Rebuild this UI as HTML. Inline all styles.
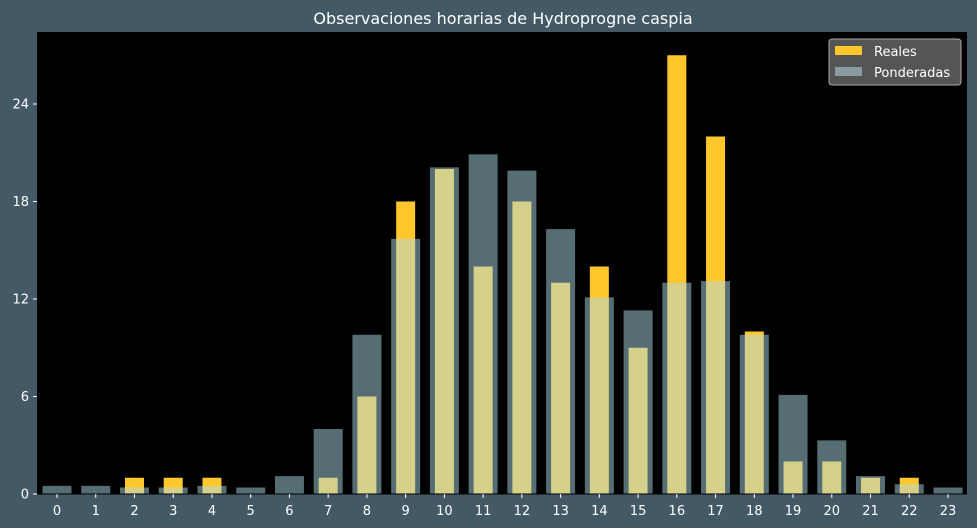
<!DOCTYPE html>
<html><head><meta charset="utf-8"><style>
html,body{margin:0;padding:0;background:#435966;}
svg{display:block;font-family:"DejaVu Sans","Liberation Sans",sans-serif;}
</style></head><body>
<svg id="chart" width="977" height="528" xmlns="http://www.w3.org/2000/svg">
<rect x="0" y="0" width="977" height="528" fill="#435966"/>
<text x="503" y="24" text-anchor="middle" fill="#ffffff" font-size="16">Observaciones horarias de Hydroprogne caspia</text>
<rect x="37" y="32" width="930" height="462" fill="#000000"/>
<g id="bars"></g>
<g id="axes"></g>
<g>
<rect x="829" y="39" width="132" height="46" rx="3" fill="#555555" stroke="#aaaaaa" stroke-width="1"/>
<rect x="835" y="46" width="27" height="9" fill="#ffc72c"/>
<text x="874" y="56" fill="#ffffff" font-size="13">Reales</text>
<rect x="835" y="67" width="27" height="9" fill="#8a9ca2"/>
<text x="874" y="77" fill="#ffffff" font-size="13">Ponderadas</text>
</g>
</svg>
<script>
const hours = [0,1,2,3,4,5,6,7,8,9,10,11,12,13,14,15,16,17,18,19,20,21,22,23];
const reales = [0,0,1,1,1,0,0,1,6,18,20,14,18,13,14,9,27,22,10,2,2,1,1,0];
const ponderadas = [0.5,0.5,0.4,0.4,0.5,0.4,1.1,4.0,9.8,15.7,20.1,20.9,19.9,16.3,12.1,11.3,13.0,13.1,9.8,6.1,3.3,1.1,0.6,0.4];
const yTicks = [0,6,12,18,24];
const NS = "http://www.w3.org/2000/svg";
const x0 = 57, step = (948-57)/23, yBase = 494, pxPerUnit = 16.25;
const xScale = h => x0 + h*step;
const yScale = v => yBase - v*pxPerUnit;
const bars = document.getElementById('bars');
const axes = document.getElementById('axes');
function mk(tag, attrs){const e=document.createElementNS(NS,tag);for(const k in attrs)e.setAttribute(k,attrs[k]);return e;}
hours.forEach((h,i)=>{
  const w=19, v=reales[i];
  const r = mk('rect',{x:xScale(h)-w/2,y:yScale(v),width:w,height:yBase-yScale(v),fill:'#ffc72c'});
  
  
  bars.appendChild(r);
});
hours.forEach((h,i)=>{
  const w=29, v=ponderadas[i];
  const r = mk('rect',{x:xScale(h)-w/2,y:yScale(v),width:w,height:yBase-yScale(v),fill:'rgba(172,218,232,0.5)'});
  
  
  bars.appendChild(r);
});
axes.appendChild(mk('line',{x1:37,y1:494,x2:967,y2:494,stroke:'#000',"stroke-width":1}));
yTicks.forEach(t=>{
  const y=yScale(t);
  const l=mk('line',{x1:33,y1:y,x2:37,y2:y,stroke:'#ffffff',"stroke-width":1});
  
  
  axes.appendChild(l);
  const tx=mk('text',{x:29,y:y+4.5,"text-anchor":"end",fill:'#ffffff',"font-size":13});
  
  
  tx.textContent=t; axes.appendChild(tx);
});
hours.forEach(h=>{
  const x=xScale(h);
  const l=mk('line',{x1:x,y1:494,x2:x,y2:498,stroke:'#ffffff',"stroke-width":1});
  
  
  axes.appendChild(l);
  const tx=mk('text',{x:x,y:515,"text-anchor":"middle",fill:'#ffffff',"font-size":13});
  
  
  tx.textContent=h; axes.appendChild(tx);
});
</script>
</body></html>
